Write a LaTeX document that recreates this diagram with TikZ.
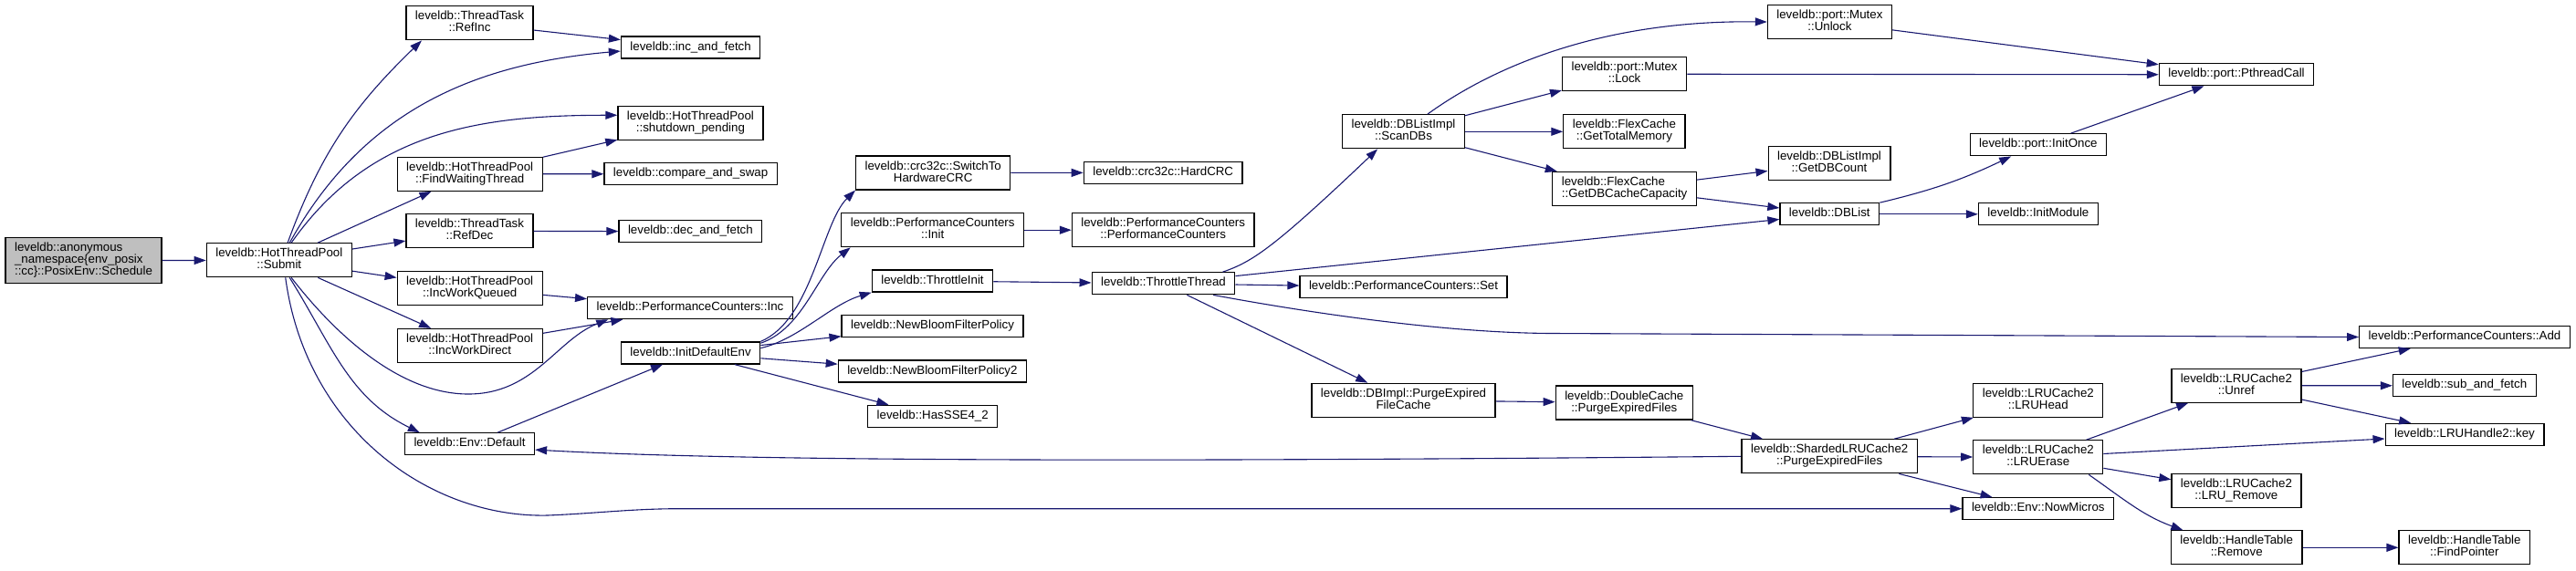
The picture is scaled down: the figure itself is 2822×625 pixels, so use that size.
\documentclass[tikz,border=0pt]{standalone}
\usepackage{fontspec}
\setmainfont{Liberation Sans}
\usetikzlibrary{arrows.meta}
\definecolor{edgeblue}{HTML}{191970}
\definecolor{rootgrey}{HTML}{BFBFBF}
\newcommand{\gstrut}{\rule[-3.4pt]{0pt}{13pt}}
\newcommand{\graphfont}{\fontsize{13.3}{13}\selectfont}
\tikzset{
  fn/.style={draw=black, fill=white, line width=1.2pt, inner xsep=10pt, inner ysep=5.5pt,
    align=center, font=\graphfont, execute at begin node=\gstrut, execute at end node=\gstrut},
  fn left/.style={fn, align=left},
  root/.style={fn left, fill=rootgrey},
  call/.style={draw=edgeblue, line width=1.1pt, -{Triangle[length=13pt, width=9pt]}},
}

\begin{document}
\begin{tikzpicture}[x=1pt, y=1pt]
  \useasboundingbox (0,0) rectangle (2822,-625);

  % Caller
  \node[root] (schedule) at (91.5,-285.7) {leveldb::anonymous\\\_namespace\{env\_posix\\::cc\}::PosixEnv::Schedule};
  \node[fn] (submit) at (305.8,-285.3) {leveldb::HotThreadPool\\::Submit};

  % Thread pool
  \node[fn] (refinc) at (514.5,-25.3) {leveldb::ThreadTask\\::RefInc};
  \node[fn] (findwait) at (514.7,-190.8) {leveldb::HotThreadPool\\::FindWaitingThread};
  \node[fn] (refdec) at (514.5,-253.3) {leveldb::ThreadTask\\::RefDec};
  \node[fn] (incqueued) at (514.7,-316.2) {leveldb::HotThreadPool\\::IncWorkQueued};
  \node[fn] (incdirect) at (514.7,-379) {leveldb::HotThreadPool\\::IncWorkDirect};
  \node[fn] (envdefault) at (514.5,-486.8) {leveldb::Env::Default};

  \node[fn] (incfetch) at (756.6,-52) {leveldb::inc\_and\_fetch};
  \node[fn] (shutdown) at (756.4,-134.7) {leveldb::HotThreadPool\\::shutdown\_pending};
  \node[fn] (cas) at (756.6,-190.7) {leveldb::compare\_and\_swap};
  \node[fn] (decfetch) at (756.4,-253.7) {leveldb::dec\_and\_fetch};
  \node[fn] (pcinc) at (756,-337.7) {leveldb::PerformanceCounters::Inc};
  \node[fn] (initenv) at (756.6,-387) {leveldb::InitDefaultEnv};

  % Environment setup
  \node[fn] (hwcrc) at (1022.2,-189.5) {leveldb::crc32c::SwitchTo\\HardwareCRC};
  \node[fn] (pcinit) at (1021.7,-252.2) {leveldb::PerformanceCounters\\::Init};
  \node[fn] (thrinit) at (1021.5,-308) {leveldb::ThrottleInit};
  \node[fn] (bloom) at (1021.5,-357.7) {leveldb::NewBloomFilterPolicy};
  \node[fn] (bloomtwo) at (1021.4,-407) {leveldb::NewBloomFilterPolicy2};
  \node[fn] (sse) at (1021.7,-456.3) {leveldb::HasSSE4\_2};

  \node[fn] (hardcrc) at (1274.2,-189.3) {leveldb::crc32c::HardCRC};
  \node[fn] (pcctor) at (1274.2,-252.2) {leveldb::PerformanceCounters\\::PerformanceCounters};
  \node[fn] (thrthread) at (1274.5,-310.8) {leveldb::ThrottleThread};

  % Throttle work
  \node[fn] (scandbs) at (1537.5,-144.3) {leveldb::DBListImpl\\::ScanDBs};
  \node[fn] (pcset) at (1537.5,-314.8) {leveldb::PerformanceCounters::Set};
  \node[fn] (purgecache) at (1537.5,-438.8) {leveldb::DBImpl::PurgeExpired\\FileCache};

  \node[fn] (lock) at (1779.6,-81.2) {leveldb::port::Mutex\\::Lock};
  \node[fn] (totalmem) at (1779.4,-144.3) {leveldb::FlexCache\\::GetTotalMemory};
  \node[fn left] (cachecap) at (1779.6,-207) {leveldb::FlexCache\\::GetDBCacheCapacity};
  \node[fn] (doublepurge) at (1779.3,-441.5) {leveldb::DoubleCache\\::PurgeExpiredFiles};

  \node[fn] (unlock) at (2004.4,-24) {leveldb::port::Mutex\\::Unlock};
  \node[fn] (dbcount) at (2004,-179) {leveldb::DBListImpl\\::GetDBCount};
  \node[fn] (dblist) at (2004.3,-234.8) {leveldb::DBList};
  \node[fn] (shardpurge) at (2004.2,-500.3) {leveldb::ShardedLRUCache2\\::PurgeExpiredFiles};

  % Cache and port
  \node[fn] (initonce) at (2232.9,-158.8) {leveldb::port::InitOnce};
  \node[fn] (initmodule) at (2232.9,-234.8) {leveldb::InitModule};
  \node[fn] (lruhead) at (2232.8,-438.7) {leveldb::LRUCache2\\::LRUHead};
  \node[fn] (lruerase) at (2232.8,-501.3) {leveldb::LRUCache2\\::LRUErase};
  \node[fn] (nowmicros) at (2232.8,-557.7) {leveldb::Env::NowMicros};

  \node[fn] (pthread) at (2450,-81.8) {leveldb::port::PthreadCall};
  \node[fn] (unref) at (2449.9,-422.7) {leveldb::LRUCache2\\::Unref};
  \node[fn] (lruremove) at (2449.9,-537.7) {leveldb::LRUCache2\\::LRU\_Remove};
  \node[fn] (htremove) at (2450.2,-600.3) {leveldb::HandleTable\\::Remove};

  \node[fn] (pcadd) at (2700,-369.5) {leveldb::PerformanceCounters::Add};
  \node[fn] (subfetch) at (2699.8,-422.8) {leveldb::sub\_and\_fetch};
  \node[fn] (lrukey) at (2700,-476.3) {leveldb::LRUHandle2::key};
  \node[fn] (findptr) at (2699.8,-600.3) {leveldb::HandleTable\\::FindPointer};

  % Calls from Submit
  \draw[call] (schedule) -- (submit);
  \draw[call] (submit.64) to[out=70, in=224] (refinc.-160);
  \draw[call] (submit.59) to[out=61, in=185] (incfetch.183);
  \draw[call] (submit.55) to[out=55, in=180] (shutdown.174);
  \draw[call] (submit) -- (findwait);
  \draw[call] (submit) -- (refdec);
  \draw[call] (submit) -- (incqueued);
  \draw[call] (submit) -- (incdirect);
  \draw[call] (submit.-55) .. controls (370,-370) and (440,-432) .. (513,-432)
    .. controls (585,-432) and (610,-372) .. (pcinc.188);
  \draw[call] (submit.-59) to[out=-58, in=154] (envdefault.167);
  \draw[call] (submit.-70) .. controls (335,-470) and (470,-568) .. (600,-565)
    .. controls (650,-563) and (690,-558) .. (740,-557.7) -- (nowmicros.west);

  \draw[call] (refinc) -- (incfetch);
  \draw[call] (findwait) -- (shutdown);
  \draw[call] (findwait) -- (cas);
  \draw[call] (refdec) -- (decfetch);
  \draw[call] (incqueued) -- (pcinc);
  \draw[call] (incdirect) -- (pcinc);
  \draw[call] (envdefault) -- (initenv);

  % Calls from InitDefaultEnv
  \draw[call] (initenv.north east) .. controls (890,-350) and (900,-245) .. (hwcrc.south west);
  \draw[call] (initenv.8) .. controls (880,-360) and (895,-300) .. (pcinit.-168);
  \draw[call] (initenv.4) .. controls (875,-372) and (910,-334) .. (thrinit.south west);
  \draw[call] (initenv) -- (bloom);
  \draw[call] (initenv) -- (bloomtwo);
  \draw[call] (initenv) -- (sse);
  \draw[call] (hwcrc) -- (hardcrc);
  \draw[call] (pcinit) -- (pcctor);
  \draw[call] (thrinit) -- (thrthread);

  % Calls from ThrottleThread
  \draw[call] (thrthread.11) .. controls (1372,-287) and (1395,-272) .. (scandbs.-146);
  \draw[call] (thrthread) -- (dblist);
  \draw[call] (thrthread) -- (pcset);
  \draw[call] (thrthread.-13) .. controls (1429,-342) and (1580,-365) .. (1700,-365.5) -- (pcadd.west);
  \draw[call] (thrthread) -- (purgecache);

  \draw[call] (scandbs.36) .. controls (1640,-70) and (1760,-22) .. (unlock.west);
  \draw[call] (scandbs) -- (lock);
  \draw[call] (scandbs) -- (totalmem);
  \draw[call] (scandbs) -- (cachecap);
  \draw[call] (cachecap) -- (dbcount);
  \draw[call] (cachecap) -- (dblist);
  \draw[call] (dblist.north east) to[bend right=6] (initonce.-157);
  \draw[call] (dblist) -- (initmodule);
  \draw[call] (unlock) -- (pthread);
  \draw[call] (lock) -- (pthread);
  \draw[call] (initonce) -- (pthread);

  % Purge chain
  \draw[call] (purgecache) -- (doublepurge);
  \draw[call] (doublepurge) -- (shardpurge);
  \draw[call] (shardpurge.west) .. controls (1200,-507) and (800,-505) .. (envdefault.-5);
  \draw[call] (shardpurge) -- (lruhead);
  \draw[call] (shardpurge) -- (lruerase);
  \draw[call] (shardpurge) -- (nowmicros);
  \draw[call] (lruerase) -- (unref);
  \draw[call] (lruerase) -- (lrukey);
  \draw[call] (lruerase) -- (lruremove);
  \draw[call] (lruerase.-19) to[out=-35, in=160] (htremove.162);
  \draw[call] (unref) -- (pcadd);
  \draw[call] (unref) -- (subfetch);
  \draw[call] (unref) -- (lrukey);
  \draw[call] (htremove) -- (findptr);
\end{tikzpicture}
\end{document}
